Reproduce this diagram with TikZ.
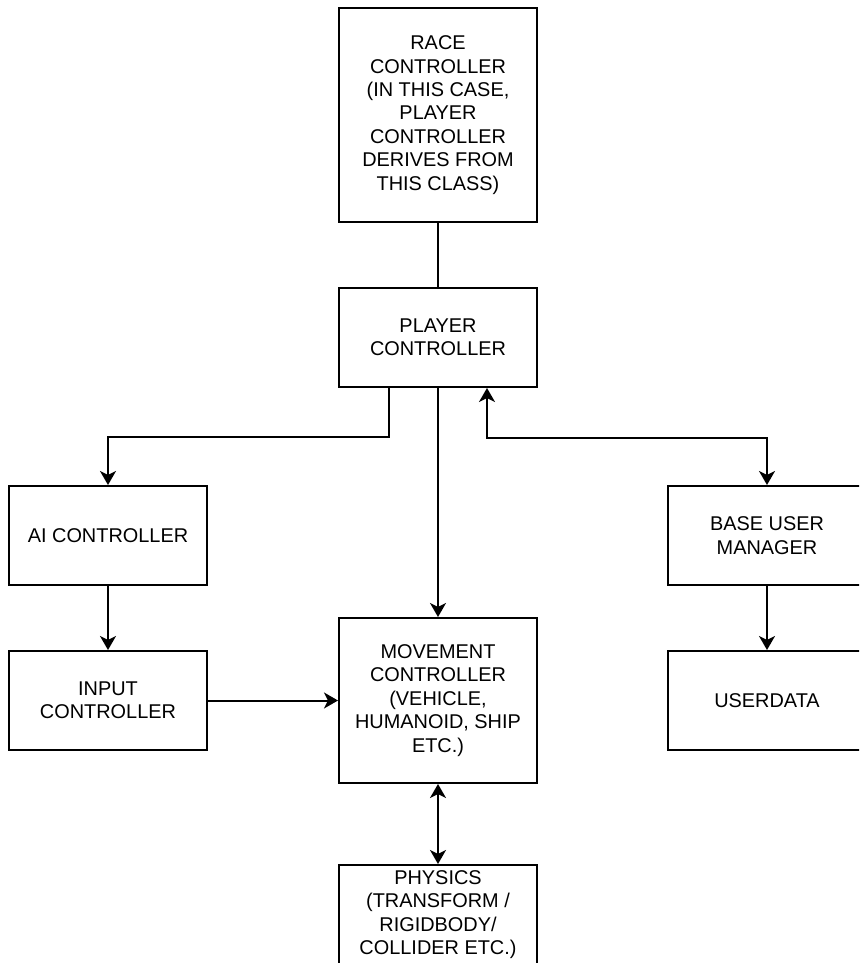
\documentclass[tikz,border=0pt]{standalone}
\usepackage{fontspec}
\setmainfont{Liberation Sans}
\usetikzlibrary{arrows.meta}
\tikzset{
  box/.style={draw, line width=2pt, minimum width=198pt, align=center,
    font=\fontsize{19.9}{23.4}\selectfont, inner sep=2pt},
  arr/.style={line width=2pt, -{Stealth[length=14pt,width=16pt,inset=4pt]}},
  dblarr/.style={line width=2pt, {Stealth[length=14pt,width=16pt,inset=4pt]}-{Stealth[length=14pt,width=16pt,inset=4pt]}}
}
\begin{document}
\begin{tikzpicture}[x=1pt,y=-1pt]
\clip (0,0) rectangle (859,963);

\node[box, minimum height=214pt] (race) at (438,115) {RACE\\CONTROLLER\\(IN THIS CASE,\\PLAYER\\CONTROLLER\\DERIVES FROM\\THIS CLASS)};
\node[box, minimum height=99pt] (player) at (438,337.5) {PLAYER\\CONTROLLER};
\node[box, minimum height=99pt] (ai) at (108,535.5) {AI CONTROLLER};
\node[box, minimum height=99pt] (input) at (108,700.5) {INPUT\\CONTROLLER};
\node[box, minimum height=165pt] (move) at (438,700.5) {MOVEMENT\\CONTROLLER\\(VEHICLE,\\HUMANOID, SHIP\\ETC.)};
\node[box, minimum height=99pt] (bum) at (767,535.5) {BASE USER\\MANAGER};
\node[box, minimum height=99pt] (userdata) at (767,700.5) {USERDATA};
\node[box, minimum height=99pt] (physics) at (438,914.5) {PHYSICS\\(TRANSFORM /\\RIGIDBODY/\\COLLIDER ETC.)};

\draw[line width=2pt] (race) -- (player);
\draw[arr] ([xshift=-49pt]player.south) -- ++(0,49) -| (ai);
\draw[arr] (player) -- (move);
\draw[dblarr] ([xshift=49pt]player.south) -- ++(0,50) -| (bum);
\draw[arr] (ai) -- (input);
\draw[arr] (input) -- (move);
\draw[arr] (bum) -- (userdata);
\draw[dblarr] (move) -- (physics);
\end{tikzpicture}
\end{document}
